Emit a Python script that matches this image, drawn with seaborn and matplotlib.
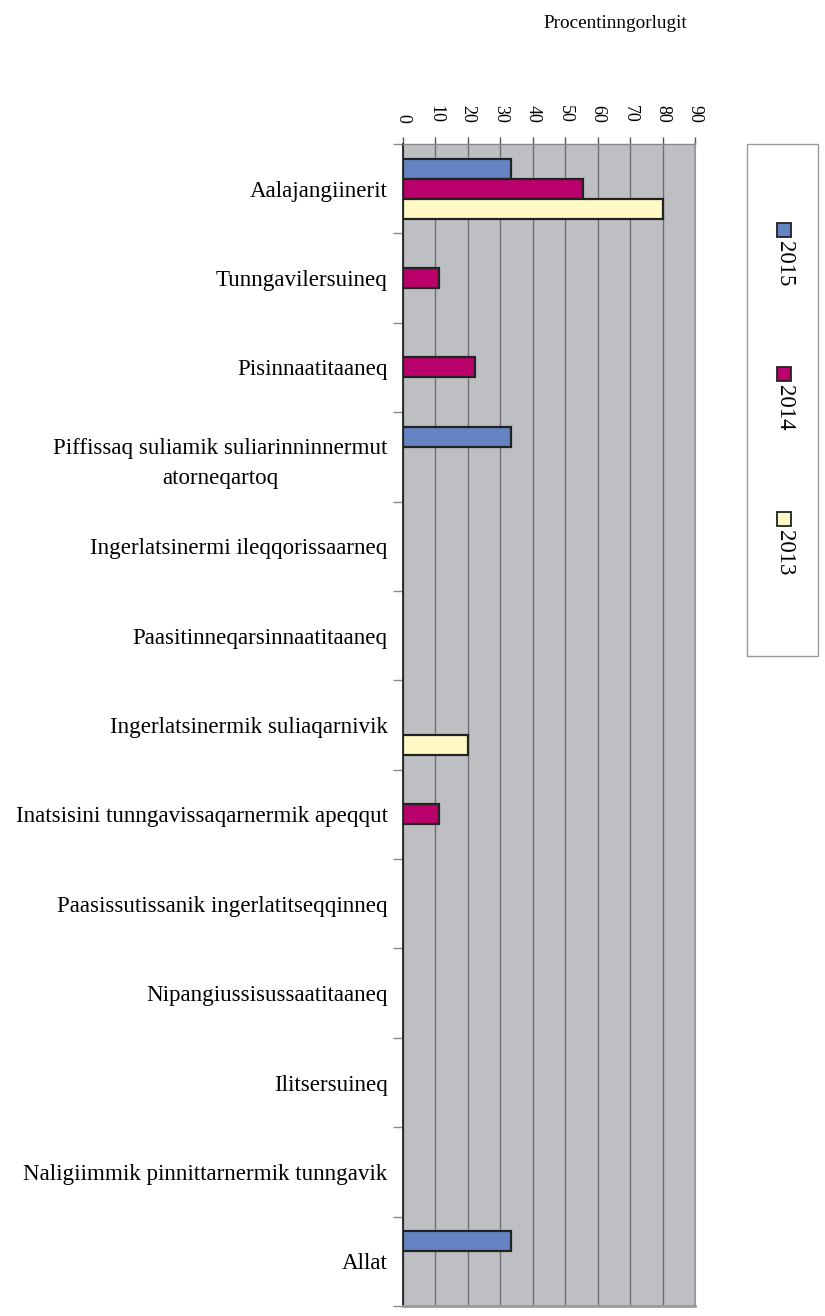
import numpy as np
import pandas as pd
import matplotlib
matplotlib.use("Agg")
import matplotlib.pyplot as plt
from matplotlib.patches import Rectangle
from matplotlib.ticker import FixedLocator
import seaborn as sns

categories = [
    "Aalajangiinerit",
    "Tunngavilersuineq",
    "Pisinnaatitaaneq",
    "Piffissaq suliamik suliarinninnermut\natorneqartoq",
    "Ingerlatsinermi ileqqorissaarneq",
    "Paasitinneqarsinnaatitaaneq",
    "Ingerlatsinermik suliaqarnivik",
    "Inatsisini tunngavissaqarnermik apeqqut",
    "Paasissutissanik ingerlatitseqqinneq",
    "Nipangiussisussaatitaaneq",
    "Ilitsersuineq",
    "Naligiimmik pinnittarnermik tunngavik",
    "Allat",
]
nan = np.nan
v2015 = [33.3, nan, nan, 33.3, nan, nan, nan, nan, nan, nan, nan, nan, 33.3]
v2014 = [55.6, 11.1, 22.2, nan, nan, nan, nan, 11.1, nan, nan, nan, nan, nan]
v2013 = [80.0, nan, nan, nan, nan, nan, 20.0, nan, nan, nan, nan, nan, nan]
years = ["2015", "2014", "2013"]
xticks = [0, 10, 20, 30, 40, 50, 60, 70, 80, 90]
title = "Procentinngorlugit"

colors = {"2015": "#6584C4", "2014": "#BA006B", "2013": "#FFF9C6"}

rows = []
for yr, vals in zip(years, [v2015, v2014, v2013]):
    for c, v in zip(categories, vals):
        rows.append({"cat": c, "year": yr, "val": v})
df = pd.DataFrame(rows).dropna()

sns.set_style("white")
plt.rcParams["font.family"] = ["Liberation Serif", "DejaVu Serif"]
plt.rcParams["text.color"] = "black"
plt.rcParams["xtick.labelcolor"] = "black"
plt.rcParams["ytick.labelcolor"] = "black"

W, H = 825, 1316
fig = plt.figure(figsize=(W / 100, H / 100), dpi=100)
ax = fig.add_axes([403 / W, 1 - 1306 / H, (695 - 403) / W, (1306 - 144) / H])
ax.set_facecolor("#BEBFC3")

sns.barplot(data=df, y="cat", x="val", hue="year", order=categories,
            hue_order=years, palette=colors, saturation=1, orient="h",
            width=0.67, edgecolor="#222222", linewidth=1.6, legend=False,
            ax=ax, errorbar=None)

ax.set_xlim(0, 90)
ax.set_ylim(len(categories) - 0.5, -0.5)
ax.set_xlabel("")
ax.set_ylabel("")

ax.xaxis.tick_top()
ax.set_xticks(xticks)
ax.set_xticklabels([str(t) for t in xticks])
ax.tick_params(axis="x", which="major", top=True, bottom=False, length=5,
               width=1, color="#555555", labelsize=13, labelrotation=-90,
               pad=10, labelcolor="black")
ax.xaxis.grid(True, color="#6E6E72", linewidth=1)
ax.yaxis.grid(False)
ax.set_axisbelow(True)

ax.set_yticks(range(len(categories)))
ax.set_yticklabels(categories)
ax.yaxis.set_minor_locator(FixedLocator(np.arange(-0.5, len(categories), 1.0)))
ax.tick_params(axis="y", which="major", left=True, length=0, labelsize=16.6,
               pad=11, labelcolor="black")
ax.tick_params(axis="y", which="minor", left=True, length=7, width=1,
               color="#8A8A8A")
for t in ax.get_yticklabels():
    t.set_multialignment("center")
    t.set_linespacing(1.55)

ax.spines["left"].set_color("#222222")
ax.spines["left"].set_linewidth(1.3)
ax.spines["top"].set_color("#8A8A8A")
ax.spines["top"].set_linewidth(1)
ax.spines["right"].set_color("#9A9A9A")
ax.spines["right"].set_linewidth(1.5)
ax.spines["bottom"].set_color("#9A9A9A")
ax.spines["bottom"].set_linewidth(2)
for s in ax.spines.values():
    s.set_visible(True)

fig.text(615 / W, 1 - 23 / H, title, ha="center", va="center", fontsize=13.8,
         color="black")

def fx(x):
    return x / W

def fy(y):
    return 1 - y / H

fig.patches.append(Rectangle((fx(747), fy(656)), 71 / W, 512 / H,
                             transform=fig.transFigure, facecolor="white",
                             edgecolor="#9A9A9A", linewidth=1))
leg_sq_y = [223, 367, 512]
for yr, sy in zip(years, leg_sq_y):
    fig.patches.append(Rectangle((fx(777), fy(sy + 14)), 14 / W, 14 / H,
                                 transform=fig.transFigure,
                                 facecolor=colors[yr], edgecolor="#222222",
                                 linewidth=1.3))
    fig.text(fx(784), fy(sy + 18), yr, rotation=-90, ha="center", va="top",
             fontsize=16.5, color="black")

fig.savefig("out.png", dpi=100)
